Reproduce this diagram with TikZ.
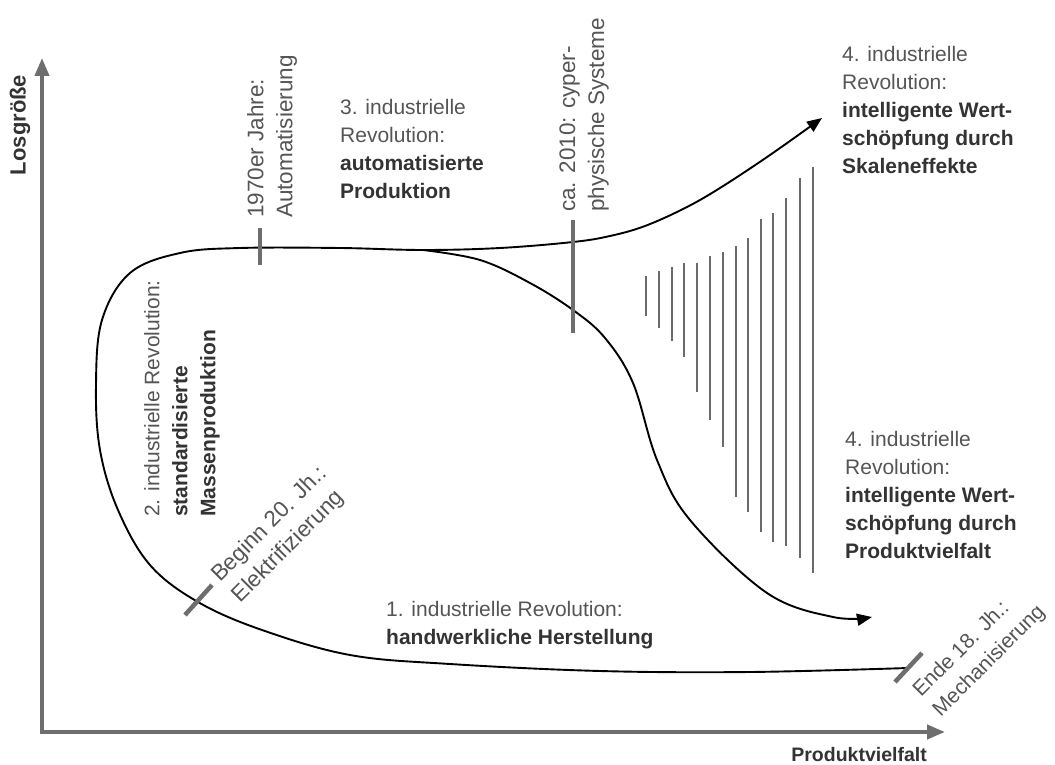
\documentclass[tikz,border=0pt]{standalone}
\usepackage{fontspec}
\setmainfont{Liberation Sans}
\usetikzlibrary{arrows.meta}
\definecolor{lgInk}{HTML}{333333}
\definecolor{lgText}{HTML}{555555}
\definecolor{lgAxis}{HTML}{6E6E6E}
\definecolor{lgHatch}{HTML}{6A6A6A}
\tikzset{
  axis/.style={draw=lgAxis,line width=4pt,-{Triangle[length=18pt,width=14pt]}},
  curve/.style={draw=black,line width=1.9pt,line join=round},
  flow/.style={curve,-{Triangle[length=15pt,width=12pt]}},
  epoch/.style={draw=lgAxis,line width=4.5pt},
  hatch/.style={draw=lgHatch,line width=2.8pt},
  note/.style={font=\fontsize{21}{28}\selectfont,align=left,text=lgText,inner sep=0pt},
  epochnote/.style={note,font=\fontsize{22.5}{29}\selectfont},
  axislabel/.style={font=\bfseries\fontsize{19.5}{22}\selectfont,text=lgInk,inner sep=0pt},
}
\newcommand{\hl}[1]{\textbf{\textcolor{lgInk}{#1}}}
\begin{document}
\begin{tikzpicture}[x=1pt,y=-1pt]
  \useasboundingbox[fill=white] (0,0) rectangle (1055,765);
  % axes
  \coordinate (origin) at (42,732);
  \draw[axis] (42,734) -- (42,58);
  \draw[axis] (40,732) -- (945,732);
  \node[axislabel,rotate=90,font=\bfseries\fontsize{22}{24}\selectfont] (yname) at (20,125) {Losgröße};
  \node[axislabel,anchor=base east] (xname) at (927,761) {Produktvielfalt};
  % main loop: from mechanisation round to scale effects
  \coordinate (split) at (423,250);
  \draw[flow] plot[smooth,tension=0.6] coordinates {
    (908,668) (750,672) (600,671) (450,664) (350,655) (262,630) (198,602)
    (150,565) (118,510) (100,450) (96,385) (102,320) (130,273) (180,253)
    (240,248) (340,248) (split) (500,248) (573,242) (610,236) (645,226)
    (685,208) (720,188) (770,155) (822,118)};
  % branch towards product variety
  \draw[flow] plot[smooth,tension=0.6] coordinates {
    (split) (480,260) (530,283) (573,310) (605,338) (633,383) (657,460)
    (690,520) (767,593) (833,617) (872,617)};
  % hatching between the branches
  \foreach \x/\ya/\yb in {646/276/316, 659/271/328, 672/267/341, 684/263/357,
      697/263/392, 710/256/420, 723/252/447, 736/246/497, 748/238/512,
      761/219/532, 773/213/542, 786/198/546, 800/178/558, 813/167/573}
    \draw[hatch] (\x,\ya) -- (\x,\yb);
  % epoch marks
  \draw[epoch] (895,682) -- (922,653);
  \draw[epoch] (185,615) -- (212,585);
  \draw[epoch] (260,228) -- (260,265);
  \draw[epoch] (573,220) -- (573,333);
  % epoch labels
  \node[note,rotate=45,anchor=west] (mech) at (927,704)
    {Ende 18. Jh.:\\Mechanisierung};
  \node[epochnote,rotate=45,anchor=west] (elec) at (226,589)
    {Beginn 20. Jh.:\\Elektrifizierung};
  \node[epochnote,rotate=90,anchor=west] (auto) at (272,218)
    {1970er Jahre:\\Automatisierung};
  \node[epochnote,rotate=90,anchor=west] (cps) at (584,212)
    {ca. 2010: cyper-\\physische Systeme};
  % revolutions
  \node[note,anchor=north west] (rev1) at (386,601)
    {1. industrielle Revolution:\\\hl{handwerkliche Herstellung}};
  \node[note,rotate=90,anchor=west] (rev2) at (182,517)
    {2. industrielle Revolution:\\\hl{standardisierte}\\\hl{Massenproduktion}};
  \node[note,anchor=north west] (rev3) at (340,99)
    {3. industrielle\\Revolution:\\\hl{automatisierte}\\\hl{Produktion}};
  \node[note,anchor=north west] (rev4a) at (842,46)
    {4. industrielle\\Revolution:\\\hl{intelligente Wert-}\\\hl{schöpfung durch}\\\hl{Skaleneffekte}};
  \node[note,anchor=north west] (rev4b) at (845,431)
    {4. industrielle\\Revolution:\\\hl{intelligente Wert-}\\\hl{schöpfung durch}\\\hl{Produktvielfalt}};
\end{tikzpicture}
\end{document}
